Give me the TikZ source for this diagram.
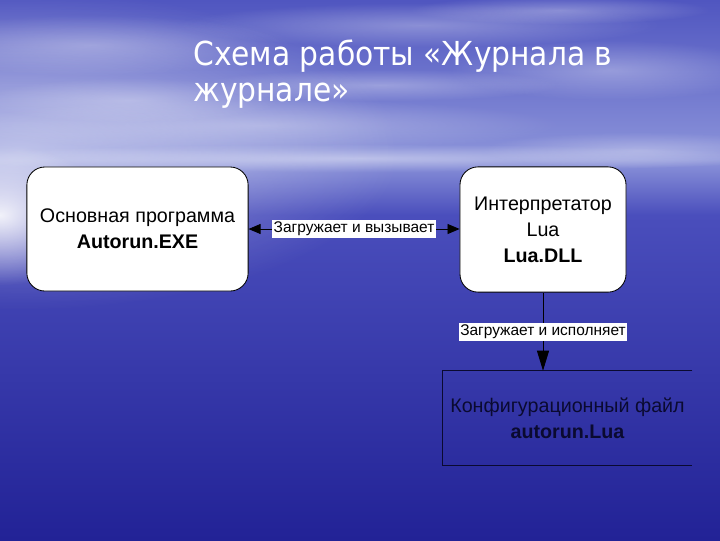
\documentclass[tikz,border=0pt]{standalone}
\usepackage{fontspec}
\setmainfont{Liberation Sans}
\newfontfamily\titlefont{DejaVu Sans Condensed}
\usetikzlibrary{arrows.meta,fadings}
\definecolor{skytop}{RGB}{80,86,192}
\definecolor{skylow}{RGB}{140,148,218}
\definecolor{seatop}{RGB}{74,78,188}
\definecolor{seabot}{RGB}{34,34,150}
\definecolor{filetext}{RGB}{10,10,48}
\tikzfading[name=soft, inner color=transparent!0, outer color=transparent!100]

\begin{document}
\begin{tikzpicture}[x=0.025cm,y=-0.025cm,
  box/.style={draw, fill=white, rounded corners=0.45cm, align=center, line width=0.6pt, font=\fontsize{14}{18.5}\selectfont},
  lbl/.style={fill=white, inner xsep=1pt, inner ysep=1.5pt, font=\fontsize{11}{13}\selectfont},
  link/.style={draw, line width=0.6pt},
  cloud/.style={fill=white, path fading=soft}]
\clip (0,0) rectangle (720,540);
% sky and sea
\shade[top color=skytop, bottom color=skylow] (0,0) rectangle (720,160);
\shade[top color=skylow, bottom color=seatop] (0,160) rectangle (720,215);
\shade[top color=seatop, bottom color=seabot] (0,215) rectangle (720,540);
\fill[cloud, opacity=0.45] (20,150) ellipse [x radius=380, y radius=160];
\foreach \cx/\cy/\rx/\ry in {90/45/200/30, 420/25/240/22, 610/70/160/30, 260/125/300/26, 640/150/160/18, 130/100/150/22, 380/85/180/16, 560/10/150/14}
  \fill[cloud, opacity=0.3] (\cx,\cy) ellipse [x radius=\rx, y radius=\ry];
\fill[cloud, opacity=0.4] (360,158) ellipse [x radius=420, y radius=14];
\fill[cloud, opacity=0.9] (0,215) ellipse [x radius=110, y radius=70];

\node[anchor=north west, inner sep=0, text=white, align=left, font=\titlefont\fontsize{23.5}{25.5}\selectfont] (title) at (193,40) {Схема работы «Журнала в\\журнале»};

\node[box, minimum width=5.53cm, minimum height=3.1cm] (main) at (137.5,229) {Основная программа\\\textbf{Autorun.EXE}};
\node[box, minimum width=4.15cm, minimum height=3.13cm] (lua) at (543,229.5) {Интерпретатор\\Lua\\\textbf{Lua.DLL}};
\node[align=center, text=filetext, font=\fontsize{14}{18.5}\selectfont, minimum width=6.23cm, minimum height=2.35cm] (cfg) at (567.5,418) {Конфигурационный файл\\\textbf{autorun.Lua}};
\draw[line width=0.6pt, filetext] (cfg.north east) -- (cfg.north west) -- (cfg.south west) -- (cfg.south east);

\path[link,{Triangle[length=0.3cm,width=0.25cm]}-{Triangle[length=0.3cm,width=0.25cm]}] (main.east) -- node[lbl] {Загружает и вызывает} (main.east -| lua.west);
\path[link,-{Triangle[length=0.5cm,width=0.3cm]}] (lua) -- node[lbl] {Загружает и исполняет} (lua |- cfg.north);
\end{tikzpicture}
\end{document}
